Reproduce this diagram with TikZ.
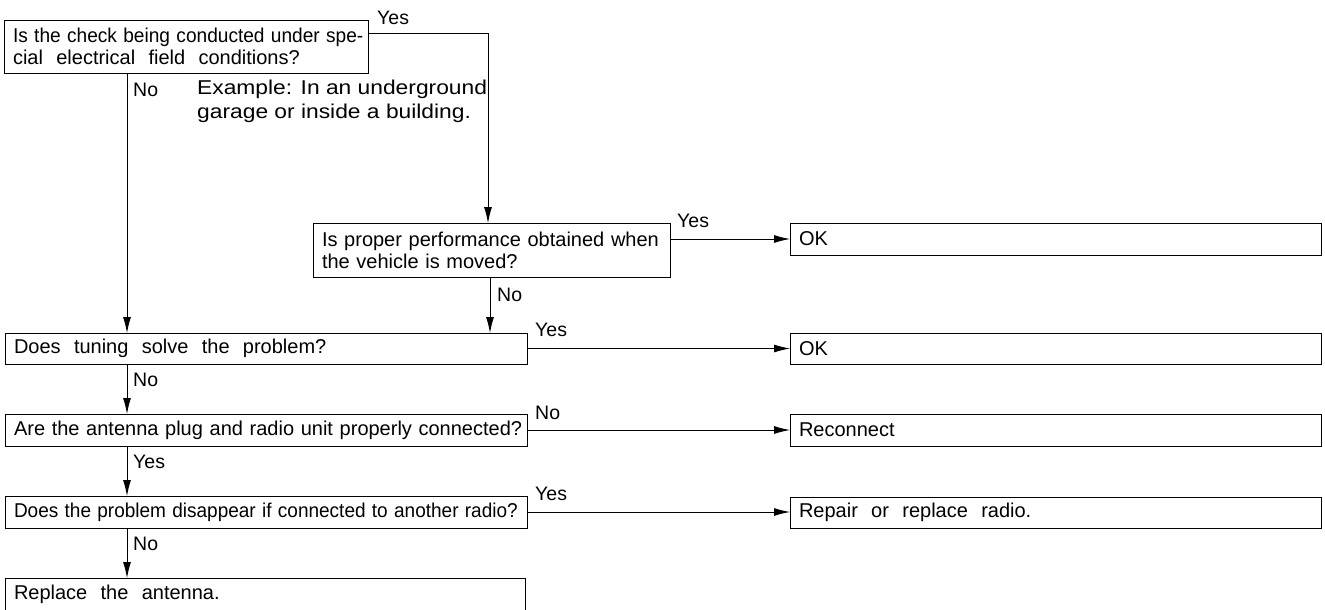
\documentclass[tikz,border=0pt]{standalone}
\usepackage{fontspec}
\setmainfont{Liberation Sans}
\usepackage{graphicx}
\usetikzlibrary{arrows.meta,calc}
\begin{document}
\begin{tikzpicture}[x=1pt,y=-1pt,
  box/.style={draw, line width=0.9pt, anchor=north west, inner xsep=9pt, inner ysep=0pt, outer sep=0pt, align=left, font=\fontsize{20}{22}\selectfont},
  lbl/.style={anchor=west, inner sep=0pt, font=\fontsize{19.5}{22}\selectfont},
  conn/.style={line width=0.9pt},
  arr/.style={conn, -{Latex[length=16pt,width=8pt]}}]
\useasboundingbox (0,0) rectangle (1325,610);
% question boxes
\node[box, text width=346pt, minimum height=53pt] (q1) at (4,20)
  {\scalebox{0.955}[1]{Is the check being conducted under spe-}\\cial\ \ electrical\ \ field\ \ conditions?};
\node[box, text width=339pt, minimum height=54pt] (q2) at (313,223)
  {\makebox[337pt][s]{Is proper performance obtained when}\\the\ vehicle\ is\ moved?};
\node[box, text width=504pt, minimum height=31pt] (q3) at (5,333)
  {Does\ \ tuning\ \ solve\ \ the\ \ problem?};
\node[box, text width=504pt, minimum height=32pt] (q4) at (5,414)
  {\makebox[504pt][l]{Are the antenna plug and radio unit properly connected?}};
\node[box, text width=504pt, minimum height=32pt] (q5) at (5,496)
  {\scalebox{0.95}[1]{Does the problem disappear if connected to another radio?}};
\node[box, text width=502pt, minimum height=33pt] (q6) at (5,578)
  {Replace\ \ the\ \ antenna.};
% result boxes
\node[box, text width=513pt, minimum height=32pt] (r1) at (790,223) {OK};
\node[box, text width=513pt, minimum height=31pt] (r2) at (790,333) {OK};
\node[box, text width=513pt, minimum height=32pt] (r3) at (790,414) {Reconnect};
\node[box, text width=513pt, minimum height=31pt] (r4) at (790,497) {Repair\ \ or\ \ replace\ \ radio.};
% note
\node[anchor=west, inner sep=0pt, align=left, font=\fontsize{20}{24}\selectfont] (note) at (197,101)
  {\scalebox{1.14}[1]{Example: In an underground}\\\scalebox{1.14}[1]{garage or inside a building.}};
% helper coordinates
\coordinate (c1) at (488,33);
\coordinate (c2) at (127,0);
\coordinate (c3) at (490,0);
% connectors
\draw[arr] (q1.east |- c1) -- (c1) -- (c1 |- q2.north);
\draw[arr] (q1.south -| c2) -- (c2 |- q3.north);
\draw[arr] (q2.east |- r1.west) -- (r1.west);
\draw[arr] (q2.south -| c3) -- (c3 |- q3.north);
\draw[arr] (q3.east) -- (q3.east -| r2.west);
\draw[arr] (q3.south -| c2) -- (c2 |- q4.north);
\draw[arr] (q4.east) -- (q4.east -| r3.west);
\draw[arr] (q4.south -| c2) -- (c2 |- q5.north);
\draw[arr] (q5.east) -- (q5.east -| r4.west);
\draw[arr] (q5.south -| c2) -- (c2 |- q6.north);
% labels
\node[lbl] (l1) at (377,18) {Yes};
\node[lbl] (l2) at (133,90) {No};
\node[lbl] (l3) at (677,221) {Yes};
\node[lbl] (l4) at (497,295) {No};
\node[lbl] (l5) at (535,330) {Yes};
\node[lbl] (l6) at (133,380) {No};
\node[lbl] (l7) at (535,413) {No};
\node[lbl] (l8) at (133,462) {Yes};
\node[lbl] (l9) at (535,494) {Yes};
\node[lbl] (l10) at (133,544) {No};
\end{tikzpicture}
\end{document}
